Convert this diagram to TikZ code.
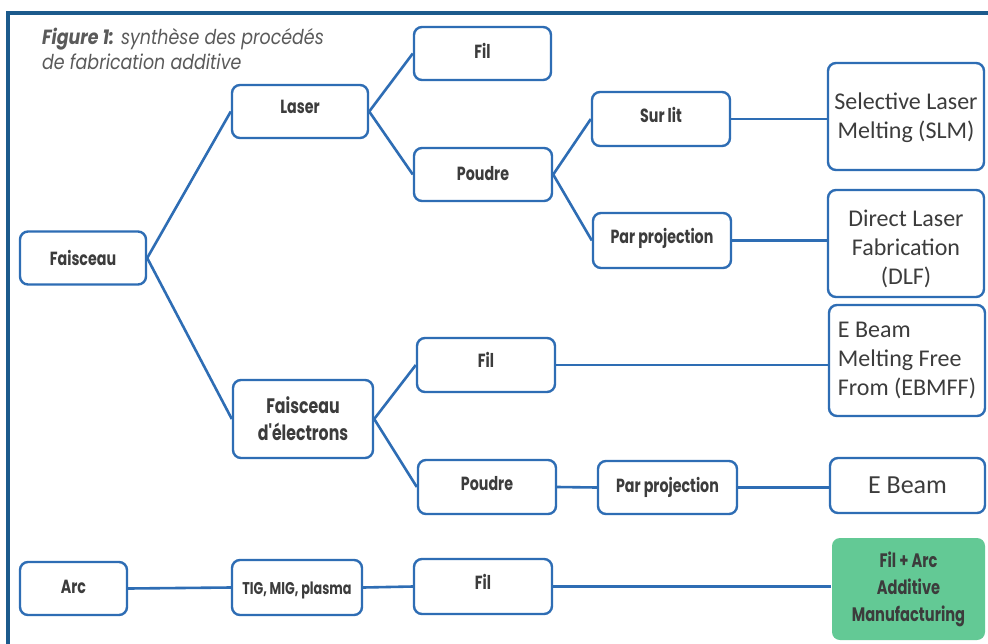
\documentclass[tikz,border=0pt]{standalone}
\usepackage{fontspec}
\newfontfamily\futfont[FakeStretch=0.75]{Poppins}
\newfontfamily\titlefont[FakeStretch=0.85]{Poppins}
\newfontfamily\calfont{Carlito}
\definecolor{lineblue}{HTML}{2E6DB4}
\definecolor{frameblue}{HTML}{1C5A8C}
\definecolor{txtgray}{HTML}{3C3C3C}
\definecolor{titlegray}{HTML}{5A5A5A}
\definecolor{greenfill}{HTML}{63C995}
\newcommand{\shifted}[2]{\raisebox{#1}[\height][\depth]{#2}}
\tikzset{
  box/.style={draw=lineblue, line width=2.4pt, rounded corners=8pt, fill=white,
    inner sep=0pt, align=center, text=txtgray, font=\futfont\bfseries\fontsize{19}{22}\selectfont},
  calbox/.style={box, font=\calfont\fontsize{24}{29}\selectfont},
  link/.style={draw=lineblue, line width=2.6pt},
  frameline/.style={draw=frameblue, line width=4pt},
}
\begin{document}
\begin{tikzpicture}[x=1pt,y=-1pt]
\useasboundingbox (0,0) rectangle (988,643);
\clip (0,0) rectangle (988,643);
\fill[white] (0,0) rectangle (988,643);
\draw[frameline] (8,660) -- (8,13) -- (1000,13);
\node[anchor=north west, align=left, text=titlegray, inner sep=0pt,
  font=\titlefont\itshape\fontsize{20.5}{25}\selectfont] (title) at (42,28)
  {{\bfseries Figure 1:} synthèse des procédés\\de fabrication additive};

\node[box, minimum width=126pt, minimum height=53pt] (faisceau) at (83,258) {Faisceau};
\node[box, minimum width=136pt, minimum height=53pt] (laser) at (300,111.5) {\shifted{5pt}{Laser}};
\node[box, minimum width=137pt, minimum height=53pt] (fil1) at (482.5,53.5) {\shifted{3pt}{Fil}};
\node[box, minimum width=138pt, minimum height=53pt] (poudre1) at (483,174.5) {\shifted{1pt}{Poudre}};
\node[box, minimum width=138pt, minimum height=54pt] (surlit) at (661,119) {\shifted{4pt}{Sur lit}};
\node[box, minimum width=138pt, minimum height=55pt] (parproj1) at (662,240.5) {\shifted{2pt}{Par projection}};
\node[calbox, minimum width=156pt, minimum height=107pt] (slm) at (906,116.5) {\shifted{-2pt}{\begin{tabular}{@{}c@{}}Selective Laser\\Melting (SLM)\end{tabular}}};
\node[calbox, minimum width=156pt, minimum height=107pt] (dlf) at (906,243.5) {\shifted{-6pt}{\begin{tabular}{@{}c@{}}Direct Laser\\Fabrication\\(DLF)\end{tabular}}};
\node[calbox, minimum width=156pt, minimum height=111pt, align=left] (ebmff) at (907,360.5) {E Beam\\Melting Free\\From (EBMFF)};
\node[box, minimum width=140pt, minimum height=78pt, font=\futfont\bfseries\fontsize{21}{27}\selectfont] (fe) at (303,419) {Faisceau\\d'électrons};
\node[box, minimum width=138pt, minimum height=54pt] (fil2) at (486,365) {\shifted{5pt}{Fil}};
\node[box, minimum width=138pt, minimum height=54pt] (poudre2) at (487,487) {\shifted{3pt}{Poudre}};
\node[box, minimum width=139pt, minimum height=53pt] (parproj2) at (667.5,487.5) {Par projection};
\node[calbox, minimum width=155pt, minimum height=55pt, font=\calfont\fontsize{26}{30}\selectfont] (ebeam) at (907.5,485.5) {E Beam};
\node[box, minimum width=107pt, minimum height=53pt] (arc) at (73.5,588.5) {\shifted{2pt}{Arc}};
\node[box, minimum width=130pt, minimum height=55pt, font=\futfont\bfseries\fontsize{17}{20}\selectfont] (tig) at (297,587.5) {\shifted{-3pt}{TIG, MIG, plasma}};
\node[box, minimum width=138pt, minimum height=55pt] (fil3) at (483,586.5) {\shifted{5pt}{Fil}};
\node[box, draw=none, fill=greenfill, minimum width=153pt, minimum height=102pt, font=\futfont\bfseries\fontsize{19.5}{27}\selectfont] (filarc) at (908.5,589) {Fil + Arc\\Additive\\Manufacturing};

\draw[link] (faisceau.east) -- (laser.west);
\draw[link] (faisceau.east) -- (fe.west);
\draw[link] (laser.east) -- (fil1.west);
\draw[link] (laser.east) -- (poudre1.west);
\draw[link] (poudre1.east) -- (surlit.west);
\draw[link] (poudre1.east) -- (parproj1.west);
\draw[link] (surlit.east) -- (surlit.east -| slm.west);
\draw[link] (parproj1.east) -- (parproj1.east -| dlf.west);
\draw[link] (fe.east) -- (fil2.west);
\draw[link] (fe.east) -- (poudre2.west);
\draw[link] (fil2.east) -- (fil2.east -| ebmff.west);
\draw[link] (poudre2.east) -- (parproj2.west);
\draw[link] (parproj2.east) -- (parproj2.east -| ebeam.west);
\draw[link] (arc.east) -- (tig.west);
\draw[link] (tig.east) -- (fil3.west);
\draw[link] (fil3.east) -- (fil3.east -| filarc.west);
\end{tikzpicture}
\end{document}
